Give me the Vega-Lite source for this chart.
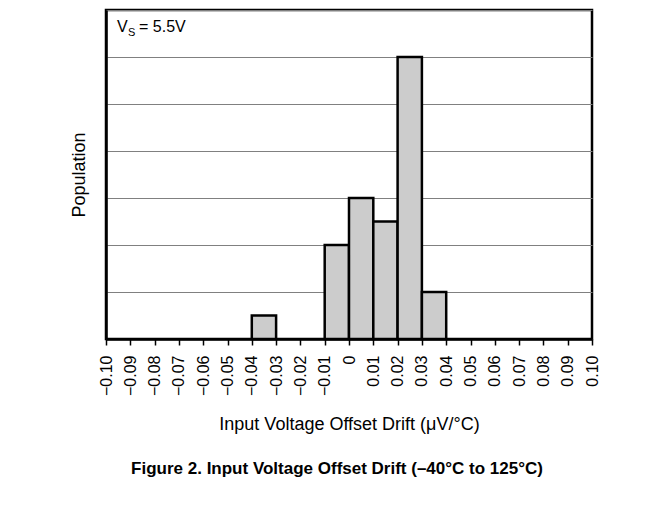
{
  "$schema": "https://vega.github.io/schema/vega-lite/v6.json",
  "width": 486,
  "height": 329,
  "autosize": {"type": "none"},
  "padding": {"left": 106, "top": 10, "right": 79, "bottom": 177},
  "background": "white",
  "config": {
    "font": "Liberation Sans",
    "view": {"stroke": "black", "strokeWidth": 2.5}
  },
  "title": {
    "text": "Figure 2. Input Voltage Offset Drift (–40°C to 125°C)",
    "orient": "bottom",
    "anchor": "middle",
    "fontSize": 17,
    "fontWeight": "bold",
    "font": "Liberation Sans",
    "color": "black",
    "offset": 28,
    "dx": -12
  },
  "layer": [
    {
      "data": {
        "values": [
          {"bin_start": -0.04, "bin_end": -0.03, "count": 0.5},
          {"bin_start": -0.01, "bin_end": 0.0, "count": 2},
          {"bin_start": 0.0, "bin_end": 0.01, "count": 3},
          {"bin_start": 0.01, "bin_end": 0.02, "count": 2.5},
          {"bin_start": 0.02, "bin_end": 0.03, "count": 6},
          {"bin_start": 0.03, "bin_end": 0.04, "count": 1}
        ]
      },
      "mark": {"type": "rect", "fill": "#cccccc", "stroke": "black", "strokeWidth": 2.5},
      "encoding": {
        "x": {
          "field": "bin_start",
          "type": "quantitative",
          "scale": {"domain": [-0.1, 0.1], "nice": false, "zero": false},
          "axis": {
            "title": "Input Voltage Offset Drift (μV/°C)",
            "titleFont": "Liberation Sans",
            "titleFontSize": 18,
            "titleFontWeight": "normal",
            "titleColor": "black",
            "titlePadding": 20,
            "values": [-0.1, -0.09, -0.08, -0.07, -0.06, -0.05, -0.04, -0.03, -0.02, -0.01, 0, 0.01, 0.02, 0.03, 0.04, 0.05, 0.06, 0.07, 0.08, 0.09, 0.1],
            "tickCount": 30,
            "labelExpr": "datum.value == 0 ? '0' : replace(format(datum.value, '.2f'), '-', '–')",
            "labelAngle": -90,
            "labelFont": "Liberation Sans",
            "labelFontSize": 16,
            "labelColor": "black",
            "labelPadding": 10,
            "labelOverlap": false,
            "labelFlush": false,
            "labelBound": false,
            "ticks": true,
            "tickSize": 6,
            "tickColor": "black",
            "tickWidth": 1.5,
            "domainColor": "black",
            "domainWidth": 2.5,
            "grid": false
          }
        },
        "x2": {"field": "bin_end"},
        "y": {
          "field": "count",
          "type": "quantitative",
          "scale": {"domain": [0, 7], "nice": false},
          "axis": {
            "title": "Population",
            "titleFont": "Liberation Sans",
            "titleFontSize": 18,
            "titleFontWeight": "normal",
            "titleColor": "black",
            "titlePadding": 18,
            "values": [0, 1, 2, 3, 4, 5, 6, 7],
            "tickCount": 10,
            "labels": false,
            "ticks": false,
            "domainColor": "black",
            "domainWidth": 2.5,
            "grid": true,
            "gridColor": "#808080",
            "gridWidth": 1.2
          }
        },
        "y2": {"datum": 0}
      }
    },
    {
      "data": {"values": [{"x": -0.1, "y": 7, "t1": "V"}]},
      "mark": {"type": "text", "align": "left", "baseline": "top", "fontSize": 16, "font": "Liberation Sans", "color": "black", "dx": 11, "dy": 9},
      "encoding": {
        "x": {"field": "x", "type": "quantitative"},
        "y": {"field": "y", "type": "quantitative"},
        "text": {"field": "t1"}
      }
    },
    {
      "data": {"values": [{"x": -0.1, "y": 7, "t2": "S"}]},
      "mark": {"type": "text", "align": "left", "baseline": "top", "fontSize": 11, "font": "Liberation Sans", "color": "black", "dx": 22, "dy": 17},
      "encoding": {
        "x": {"field": "x", "type": "quantitative"},
        "y": {"field": "y", "type": "quantitative"},
        "text": {"field": "t2"}
      }
    },
    {
      "data": {"values": [{"x": -0.1, "y": 7, "t3": "= 5.5V"}]},
      "mark": {"type": "text", "align": "left", "baseline": "top", "fontSize": 16, "font": "Liberation Sans", "color": "black", "dx": 33, "dy": 9},
      "encoding": {
        "x": {"field": "x", "type": "quantitative"},
        "y": {"field": "y", "type": "quantitative"},
        "text": {"field": "t3"}
      }
    }
  ]
}
